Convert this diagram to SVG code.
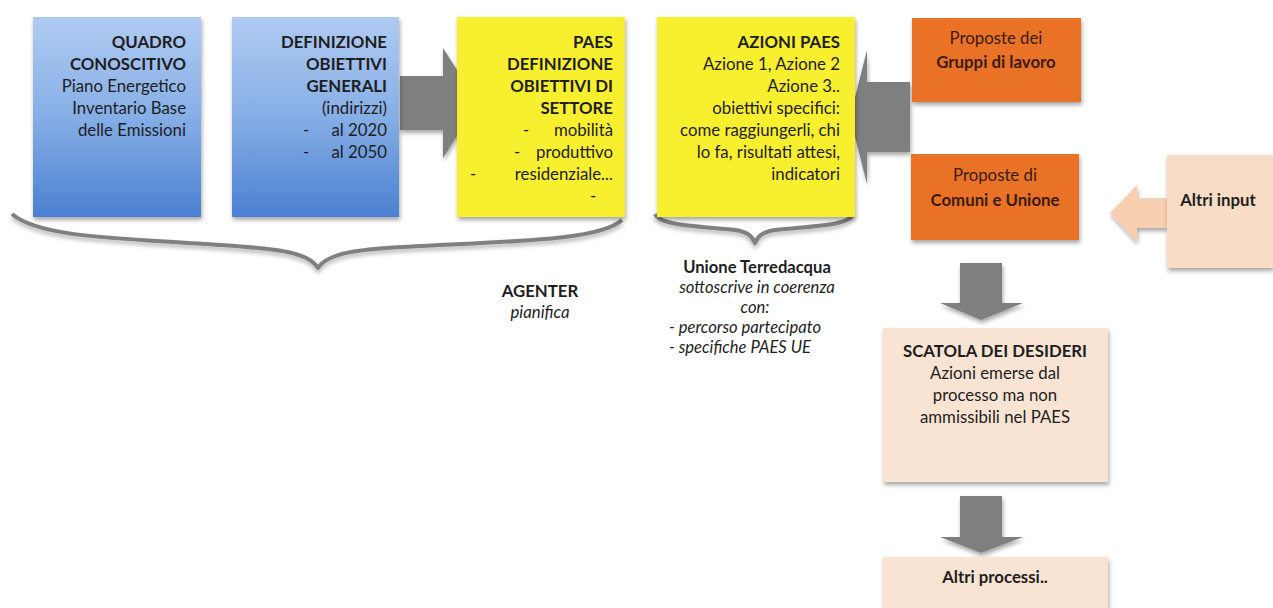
<svg xmlns="http://www.w3.org/2000/svg" width="1273" height="608" viewBox="0 0 1273 608">
<defs>
<linearGradient id="blueGrad" x1="0" y1="0" x2="0" y2="1">
<stop offset="0" stop-color="#b0cbf2"/>
<stop offset="0.5" stop-color="#86aee6"/>
<stop offset="1" stop-color="#4a80d0"/>
</linearGradient>
<filter id="shadow" x="-10%" y="-10%" width="125%" height="130%">
<feDropShadow dx="1" dy="3" stdDeviation="2" flood-color="#000" flood-opacity="0.35"/>
</filter>
<filter id="bshadow" x="-5%" y="-30%" width="110%" height="180%">
<feDropShadow dx="0" dy="3" stdDeviation="2" flood-color="#000" flood-opacity="0.3"/>
</filter>
</defs>
<style>
text{font-family:Lato,"Liberation Sans",sans-serif;font-size:16.8px;fill:#1e1e1e}
.b{font-weight:bold}
.i{font-style:italic}
.r{text-anchor:end}
.m{text-anchor:middle}
.u{font-size:16.6px}
.blue{fill:url(#blueGrad);filter:url(#shadow)}
.yel{fill:#f8ef2f;filter:url(#shadow)}
.org{fill:#ea7226;filter:url(#shadow)}
.pch{fill:#f8dcc6;filter:url(#shadow)}
.pch2{fill:#f9e4d4;filter:url(#shadow)}
.garrow{fill:#7f7f7f;filter:url(#shadow)}
.brace{fill:none;stroke:#808080;stroke-width:4;stroke-linejoin:round;filter:url(#bshadow)}
.otxt{fill:#3a1c0c}
</style>
<rect width="1273" height="608" fill="#ffffff"/>

<g id="connectors">
<path class="garrow" d="M400,76 L443,76 L443,48 L478,103 L443,158 L443,130 L400,130 Z"/>
<path class="garrow" d="M910,82 L867,82 L867,50 L850,117 L867,184 L867,152 L910,152 Z"/>
<path fill="#f6d0b0" filter="url(#shadow)" d="M1167,198 L1137,198 L1137,185 L1110,213 L1137,242 L1137,228 L1167,228 Z"/>
<path class="garrow" d="M960,263 L1002,263 L1002,303 L1023,303 L981,320 L940,303 L960,303 Z"/>
<path class="garrow" d="M960,496 L1002,496 L1002,537 L1023,537 L981,553 L940,537 L960,537 Z"/>
<path class="brace" d="M12,214 C40,238 120,238 220,245 C280,249 308,252 318,268 C328,252 360,249 420,246 C520,241 600,240 622,220"/>
<path class="brace" d="M655,214 C660,226 700,226 735,230 C748,232 752,236 755,243 C758,236 762,232 775,230 C810,226 850,226 853,214"/>
</g>

<g id="quadro">
<rect class="blue" x="33" y="17" width="168" height="200"/>
<text class="b r" x="186" y="48">QUADRO</text>
<text class="b r" x="186" y="70">CONOSCITIVO</text>
<text class="r" x="186" y="92">Piano Energetico</text>
<text class="r" x="186" y="114">Inventario Base</text>
<text class="r" x="186" y="136">delle Emissioni</text>
</g>

<g id="obiettivi-generali">
<rect class="blue" x="232" y="17" width="167" height="200"/>
<text class="b r" x="387" y="48">DEFINIZIONE</text>
<text class="b r" x="387" y="70">OBIETTIVI</text>
<text class="b r" x="387" y="92">GENERALI</text>
<text class="r" x="387" y="114">(indirizzi)</text>
<text x="303" y="136">-</text><text class="r" x="387" y="136">al 2020</text>
<text x="303" y="158">-</text><text class="r" x="387" y="158">al 2050</text>
</g>

<g id="paes-settore">
<rect class="yel" x="457" y="17" width="168" height="200"/>
<text class="b r" x="613" y="48">PAES</text>
<text class="b r" x="613" y="70">DEFINIZIONE</text>
<text class="b r" x="613" y="92">OBIETTIVI DI</text>
<text class="b r" x="613" y="114">SETTORE</text>
<text x="523" y="136">-</text><text class="r" x="613" y="136">mobilità</text>
<text x="514" y="158">-</text><text class="r" x="613" y="158">produttivo</text>
<text x="470" y="180">-</text><text class="r" x="613" y="180">residenziale...</text>
<text class="m" x="593" y="202">-</text>
</g>

<g id="azioni-paes">
<rect class="yel" x="657" y="17" width="198" height="200"/>
<text class="b r" x="840" y="48">AZIONI PAES</text>
<text class="r" x="840" y="70">Azione 1, Azione 2</text>
<text class="r" x="840" y="92">Azione 3..</text>
<text class="r" x="840" y="114">obiettivi specifici:</text>
<text class="r" x="840" y="136">come raggiungerli, chi</text>
<text class="r" x="840" y="158">lo fa, risultati attesi,</text>
<text class="r" x="840" y="180">indicatori</text>
</g>

<g id="gruppi-lavoro">
<rect class="org" x="912" y="18" width="169" height="84"/>
<text class="m otxt" x="996" y="44">Proposte dei</text>
<text class="m b otxt" x="996" y="68">Gruppi di lavoro</text>
</g>

<g id="comuni-unione">
<rect class="org" x="911" y="154" width="168" height="86"/>
<text class="m otxt" x="995" y="181">Proposte di</text>
<text class="m b otxt" x="995" y="206">Comuni e Unione</text>
</g>

<g id="altri-input">
<rect class="pch" x="1167" y="155" width="106" height="113"/>
<text class="b m" x="1218" y="206">Altri input</text>
</g>

<g id="scatola">
<rect class="pch2" x="883" y="328" width="225" height="154"/>
<text class="b m" x="995" y="357">SCATOLA DEI DESIDERI</text>
<text class="m" x="995" y="379">Azioni emerse dal</text>
<text class="m" x="995" y="401">processo ma non</text>
<text class="m" x="995" y="423">ammissibili nel PAES</text>
</g>

<g id="altri-processi">
<rect class="pch2" x="883" y="557" width="225" height="60"/>
<text class="b m" x="995" y="583">Altri processi..</text>
</g>

<g id="agenter">
<text class="b m" x="540" y="297">AGENTER</text>
<text class="i m" x="540" y="318">pianifica</text>
</g>

<g id="unione">
<text class="b m u" x="757" y="273">Unione Terredacqua</text>
<text class="i m u" x="757" y="293">sottoscrive in coerenza</text>
<text class="i m u" x="755" y="313">con:</text>
<text class="i u" x="669" y="333">- percorso partecipato</text>
<text class="i u" x="669" y="353">- specifiche PAES UE</text>
</g>
</svg>
